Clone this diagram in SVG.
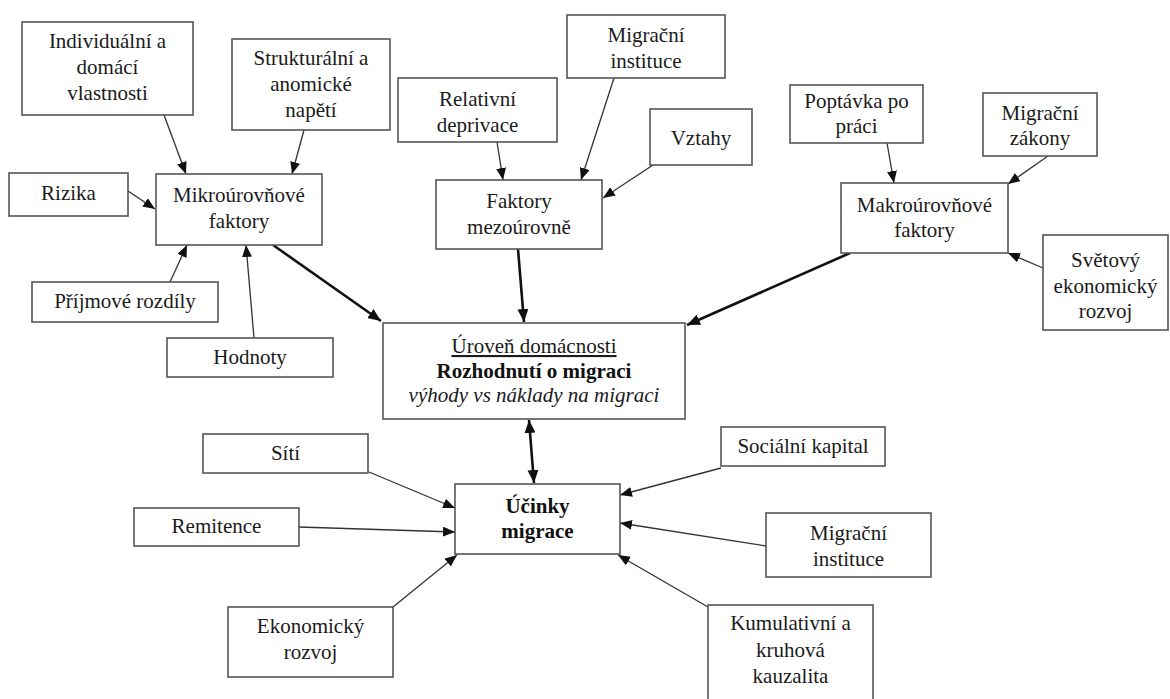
<svg xmlns="http://www.w3.org/2000/svg" width="1170" height="699" viewBox="0 0 1170 699">
<style>
.box{fill:#fff;stroke:#555;stroke-width:1.6}
text{font-family:'Liberation Serif','Times New Roman','DejaVu Serif',serif;font-size:21px;fill:#1a1a1a;text-anchor:middle}
.b{font-weight:bold;fill:#111}
.i{font-style:italic}
.u{text-decoration:underline}
.c{fill:none;stroke:#333;stroke-width:1.3}
.t{fill:none;stroke:#111;stroke-width:2.6}
</style>
<defs>
<marker id="ah" markerUnits="userSpaceOnUse" markerWidth="12" markerHeight="10" refX="12" refY="5" orient="auto-start-reverse"><path d="M0,0 L12,5 L0,10 Z" fill="#111"/></marker>
<marker id="ahb" markerUnits="userSpaceOnUse" markerWidth="13" markerHeight="11" refX="13" refY="5.5" orient="auto-start-reverse"><path d="M0,0 L13,5.5 L0,11 Z" fill="#111"/></marker>
</defs>
<rect width="1170" height="699" fill="#fff"/>
<g id="connectors">
<line class="c" x1="164" y1="115" x2="186" y2="174" marker-end="url(#ah)"/>
<line class="c" x1="304" y1="130" x2="292" y2="174" marker-end="url(#ah)"/>
<line class="c" x1="128" y1="191" x2="155" y2="209" marker-end="url(#ah)"/>
<line class="c" x1="170" y1="282" x2="187" y2="245" marker-end="url(#ah)"/>
<line class="c" x1="254" y1="338" x2="246" y2="245" marker-end="url(#ah)"/>
<line class="t" x1="273" y1="245" x2="381" y2="321" marker-end="url(#ahb)"/>
<line class="c" x1="497" y1="142" x2="503" y2="180" marker-end="url(#ah)"/>
<line class="c" x1="614" y1="78" x2="581" y2="180" marker-end="url(#ah)"/>
<line class="c" x1="653" y1="165" x2="603" y2="198" marker-end="url(#ah)"/>
<line class="t" x1="518" y1="249" x2="524" y2="322" marker-end="url(#ahb)"/>
<line class="c" x1="887" y1="143" x2="894" y2="183" marker-end="url(#ah)"/>
<line class="c" x1="1048" y1="156" x2="1008" y2="184" marker-end="url(#ah)"/>
<line class="c" x1="1043" y1="268" x2="1008" y2="253" marker-end="url(#ah)"/>
<line class="t" x1="850" y1="253" x2="687" y2="325" marker-end="url(#ahb)"/>
<line class="t" x1="529" y1="420" x2="534" y2="483" marker-start="url(#ahb)" marker-end="url(#ahb)"/>
<line class="c" x1="369" y1="472" x2="455" y2="508" marker-end="url(#ah)"/>
<line class="c" x1="299" y1="527" x2="455" y2="532" marker-end="url(#ah)"/>
<line class="c" x1="393" y1="607" x2="457" y2="555" marker-end="url(#ah)"/>
<line class="c" x1="721" y1="468" x2="620" y2="495" marker-end="url(#ah)"/>
<line class="c" x1="766" y1="546" x2="620" y2="523" marker-end="url(#ah)"/>
<line class="c" x1="708" y1="607" x2="618" y2="555" marker-end="url(#ah)"/>
</g>
<g id="n-individualni"><rect class="box" x="22" y="22" width="171" height="93"/><text x="107.5" y="48">Individuální a</text><text x="107.5" y="74">domácí</text><text x="107.5" y="100">vlastnosti</text></g>
<g id="n-strukturalni"><rect class="box" x="232" y="39" width="158" height="91"/><text x="311" y="65">Strukturální a</text><text x="311" y="91">anomické</text><text x="311" y="117">napětí</text></g>
<g id="n-rizika"><rect class="box" x="9" y="173" width="119" height="43"/><text x="68.5" y="200">Rizika</text></g>
<g id="n-mikro"><rect class="box" x="156" y="174" width="166" height="71"/><text x="239" y="202">Mikroúrovňové</text><text x="239" y="228">faktory</text></g>
<g id="n-prijmove"><rect class="box" x="32" y="282" width="186" height="40"/><text x="125" y="308">Příjmové rozdíly</text></g>
<g id="n-hodnoty"><rect class="box" x="167" y="338" width="166" height="39"/><text x="250" y="364">Hodnoty</text></g>
<g id="n-relativni"><rect class="box" x="398" y="78" width="159" height="64"/><text x="477.5" y="106">Relativní</text><text x="477.5" y="132">deprivace</text></g>
<g id="n-migracni-instituce-1"><rect class="box" x="567" y="15" width="158" height="63"/><text x="646" y="42">Migrační</text><text x="646" y="68">instituce</text></g>
<g id="n-vztahy"><rect class="box" x="650" y="109" width="102" height="56"/><text x="701" y="145">Vztahy</text></g>
<g id="n-mezo"><rect class="box" x="436" y="180" width="166" height="69"/><text x="519" y="208">Faktory</text><text x="519" y="234">mezoúrovně</text></g>
<g id="n-poptavka"><rect class="box" x="790" y="85" width="133" height="58"/><text x="856.5" y="108">Poptávka po</text><text x="856.5" y="133">práci</text></g>
<g id="n-zakony"><rect class="box" x="983" y="93" width="114" height="63"/><text x="1040" y="120">Migrační</text><text x="1040" y="145">zákony</text></g>
<g id="n-makro"><rect class="box" x="841" y="183" width="167" height="70"/><text x="924.5" y="212">Makroúrovňové</text><text x="924.5" y="237">faktory</text></g>
<g id="n-svetovy"><rect class="box" x="1043" y="235" width="125" height="95"/><text x="1105.5" y="267">Světový</text><text x="1105.5" y="293">ekonomický</text><text x="1105.5" y="318">rozvoj</text></g>
<g id="n-uroven"><rect class="box" x="383" y="323" width="302" height="96"/><text class="u" x="534" y="353">Úroveň domácnosti</text><text class="b" x="534" y="378">Rozhodnutí o migraci</text><text class="i" x="534" y="402">výhody vs náklady na migraci</text></g>
<g id="n-ucinky"><rect class="box" x="455" y="484" width="165" height="70"/><text class="b" x="537.5" y="513">Účinky</text><text class="b" x="537.5" y="538">migrace</text></g>
<g id="n-siti"><rect class="box" x="203" y="434" width="165" height="39"/><text x="285.5" y="460">Sítí</text></g>
<g id="n-remitence"><rect class="box" x="134" y="508" width="165" height="38"/><text x="216.5" y="533">Remitence</text></g>
<g id="n-ekonomicky"><rect class="box" x="228" y="607" width="165" height="70"/><text x="310.5" y="633">Ekonomický</text><text x="310.5" y="659">rozvoj</text></g>
<g id="n-socialni"><rect class="box" x="721" y="427" width="164" height="39"/><text x="803" y="453">Sociální kapital</text></g>
<g id="n-migracni-instituce-2"><rect class="box" x="766" y="513" width="165" height="64"/><text x="848.5" y="540">Migrační</text><text x="848.5" y="566">instituce</text></g>
<g id="n-kumulativni"><rect class="box" x="708" y="605" width="165" height="100"/><text x="790.5" y="630">Kumulativní a</text><text x="790.5" y="657">kruhová</text><text x="790.5" y="683">kauzalita</text></g>
</svg>
